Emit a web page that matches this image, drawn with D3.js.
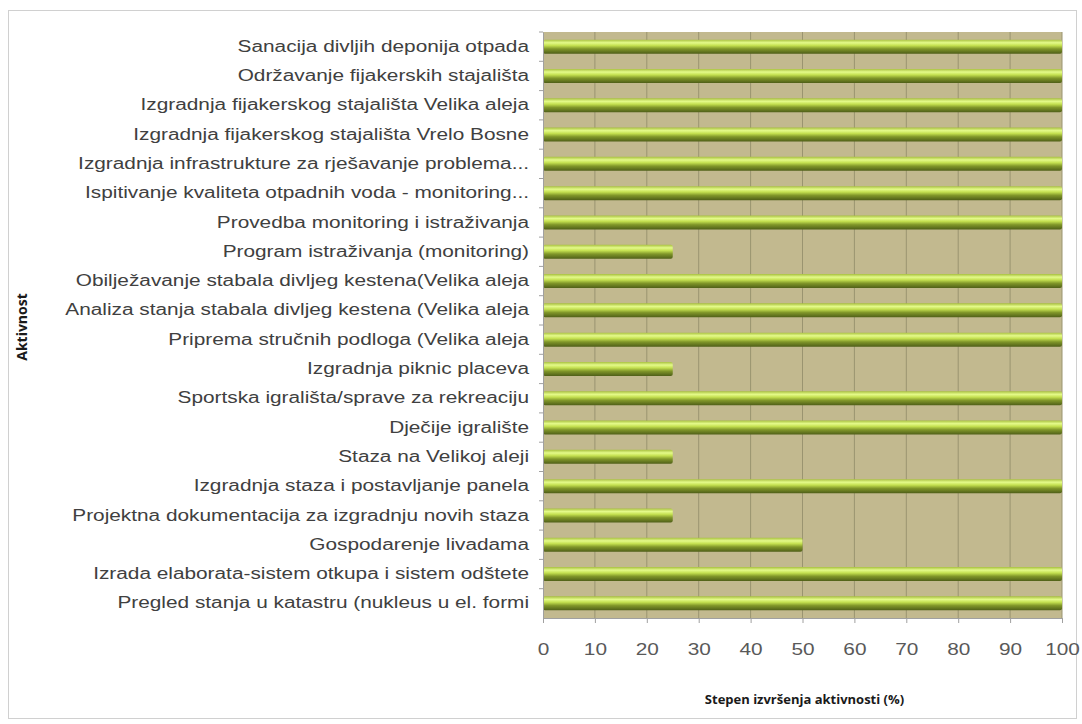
<!DOCTYPE html>
<html>
<head>
    <meta charset="utf-8">
    <title>Stepen izvršenja aktivnosti</title>
    <script src="https://d3js.org/d3.v7.min.js"></script>
    <style>
        body { margin: 0; background: #fff; }
        svg { font-family: "Open Sans", "DejaVu Sans", sans-serif; }
        .cat-label { font-size: 16px; fill: #404040; }
        .tick-label { font-size: 16px; fill: #595959; }
        .axis-title { font-size: 13px; font-weight: bold; fill: #1a1a1a; }
        .y-title { font-size: 14px; }
    </style>
</head>
<body>
    <svg width="1082" height="724"></svg>
    <script>
        var activities = [
            "Sanacija divljih deponija otpada",
            "Održavanje fijakerskih stajališta",
            "Izgradnja fijakerskog stajališta Velika aleja",
            "Izgradnja fijakerskog stajališta Vrelo Bosne",
            "Izgradnja infrastrukture za rješavanje problema...",
            "Ispitivanje kvaliteta otpadnih voda - monitoring...",
            "Provedba monitoring i istraživanja",
            "Program istraživanja (monitoring)",
            "Obilježavanje stabala divljeg kestena(Velika aleja",
            "Analiza stanja stabala divljeg kestena (Velika aleja",
            "Priprema stručnih podloga (Velika aleja",
            "Izgradnja piknic placeva",
            "Sportska igrališta/sprave za rekreaciju",
            "Dječije igralište",
            "Staza na Velikoj aleji",
            "Izgradnja staza i postavljanje panela",
            "Projektna dokumentacija za izgradnju novih staza",
            "Gospodarenje livadama",
            "Izrada elaborata-sistem otkupa i sistem odštete",
            "Pregled stanja u katastru (nukleus u el. formi"
        ];
        var completion = [100, 100, 100, 100, 100, 100, 100, 25, 100, 100, 100, 25, 100, 100, 25, 100, 25, 50, 100, 100];
        var xTicks = [0, 10, 20, 30, 40, 50, 60, 70, 80, 90, 100];

        var svg = d3.select("svg");
        var plot = {left: 543, right: 1062, top: 32, bottom: 618};

        var x = d3.scaleLinear().domain([0, 100]).range([plot.left, plot.right]);
        var y = d3.scaleBand().domain(activities).range([plot.top, plot.bottom]);

        // chart border
        svg.append("rect")
            .attr("x", 8.5).attr("y", 10.5)
            .attr("width", 1068).attr("height", 708)
            .attr("fill", "#fff")
            .attr("stroke", "#d0d0d0");

        // bar gradient (cylinder look)
        var grad = svg.append("defs").append("linearGradient")
            .attr("id", "barGrad")
            .attr("x1", 0).attr("y1", 0).attr("x2", 0).attr("y2", 1);
        grad.append("stop").attr("offset", "0%").attr("stop-color", "#a8c040");
        grad.append("stop").attr("offset", "22%").attr("stop-color", "#e4fa8a");
        grad.append("stop").attr("offset", "42%").attr("stop-color", "#c4e050");
        grad.append("stop").attr("offset", "66%").attr("stop-color", "#809629");
        grad.append("stop").attr("offset", "100%").attr("stop-color", "#4f5f18");

        // plot background
        svg.append("rect")
            .attr("x", plot.left).attr("y", plot.top)
            .attr("width", plot.right - plot.left)
            .attr("height", plot.bottom - plot.top)
            .attr("fill", "#c2b98f");

        // gridlines
        svg.append("g")
            .selectAll("line")
            .data(xTicks.slice(1))
            .enter().append("line")
            .attr("x1", d => x(d)).attr("x2", d => x(d))
            .attr("y1", plot.top).attr("y2", plot.bottom)
            .attr("stroke", "#9a9470")
            .attr("stroke-width", 1);

        // bars
        var barH = 14;
        svg.append("g")
            .selectAll("rect")
            .data(activities)
            .enter().append("rect")
            .attr("x", x(0))
            .attr("y", d => y(d) + y.bandwidth() / 2 - barH / 2)
            .attr("width", (d, i) => x(completion[i]) - x(0))
            .attr("height", barH)
            .attr("rx", 2)
            .attr("fill", "url(#barGrad)");

        // x axis
        var xAxis = svg.append("g")
            .attr("transform", `translate(0,${plot.bottom})`)
            .call(d3.axisBottom(x).tickValues(xTicks).tickSize(5).tickFormat(d3.format("d")));
        xAxis.select(".domain").attr("stroke", "#a0a0a0");
        xAxis.selectAll(".tick line").attr("stroke", "#a0a0a0");
        xAxis.selectAll(".tick text")
            .attr("class", "tick-label")
            .attr("y", 26)
            .attr("font-family", null)
            .attr("font-size", null)
            .attr("fill", null)
            .each(function() {
                var len = this.getComputedTextLength();
                d3.select(this).attr("textLength", len * 1.3).attr("lengthAdjust", "spacingAndGlyphs");
            });

        // y axis
        var yAxis = svg.append("g")
            .attr("transform", `translate(${plot.left},0)`)
            .call(d3.axisLeft(y).tickSize(0).tickPadding(14));
        yAxis.select(".domain").attr("stroke", "#a0a0a0");
        yAxis.selectAll(".tick text")
            .attr("class", "cat-label")
            .attr("font-family", null)
            .attr("font-size", null)
            .attr("fill", null)
            .each(function() {
                // the original labels are rendered noticeably wider
                var len = this.getComputedTextLength();
                d3.select(this).attr("textLength", len * 1.3).attr("lengthAdjust", "spacingAndGlyphs");
            });
        // small category separator ticks
        svg.append("g")
            .selectAll("line")
            .data(activities)
            .enter().append("line")
            .attr("x1", plot.left - 4).attr("x2", plot.left)
            .attr("y1", d => y(d)).attr("y2", d => y(d))
            .attr("stroke", "#a0a0a0");

        // axis titles
        svg.append("text")
            .attr("class", "axis-title")
            .attr("x", (plot.left + plot.right) / 2 + 2)
            .attr("y", 704)
            .attr("text-anchor", "middle")
            .text("Stepen izvršenja aktivnosti (%)");

        svg.append("text")
            .attr("class", "axis-title y-title")
            .attr("transform", `translate(27,${(plot.top + plot.bottom) / 2 + 2}) rotate(-90)`)
            .attr("text-anchor", "middle")
            .text("Aktivnost");
    </script>
</body>
</html>
